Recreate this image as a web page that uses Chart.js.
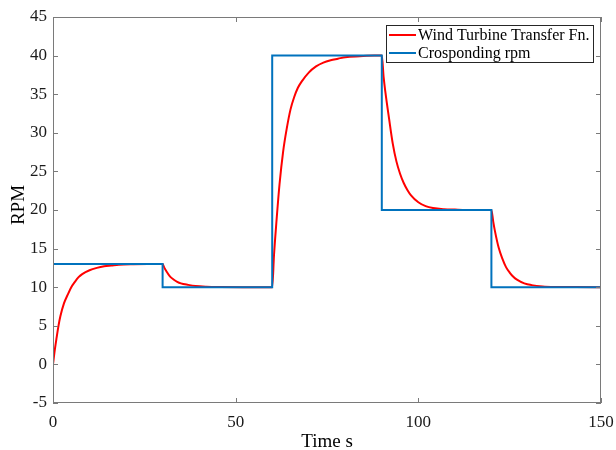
<!DOCTYPE html>
<html>
<head>
<meta charset="utf-8">
<script src="https://cdn.jsdelivr.net/npm/chart.js@4/dist/chart.umd.min.js"></script>
<style>
  html, body { margin: 0; padding: 0; background: #fff; }
  #wrap { width: 616px; height: 450px; }
</style>
</head>
<body>
<div id="wrap"><canvas id="rpmChart" width="616" height="450"></canvas></div>
<script>
// transfer function output
const respTime = [0, 0.5, 1, 1.5, 2, 3, 4, 5, 6, 7, 8, 10, 12, 14, 16, 18, 22, 26, 30,
  30.5, 31, 32, 33, 34, 35, 37, 39, 42, 46, 52, 60,
  60.5, 61, 62, 63, 64, 65, 66, 67, 68, 70, 72, 74, 76, 78, 80, 84, 88, 90,
  90.5, 91, 92, 93, 94, 95, 96, 97, 98, 100, 102, 104, 107, 110, 115, 120,
  120.5, 121, 122, 123, 124, 125, 126, 127, 129, 131, 134, 138, 143, 150];
const respRpm = [0, 1.9, 3.5, 5.0, 6.2, 7.9, 9.0, 10.0, 10.7, 11.3, 11.7, 12.2, 12.5, 12.7, 12.8, 12.9, 12.97, 13, 13,
  12.5, 12.1, 11.4, 11.0, 10.7, 10.5, 10.3, 10.15, 10.06, 10.02, 10, 10,
  14.2, 17.5, 23.3, 27.6, 30.6, 33.0, 34.6, 35.8, 36.6, 37.8, 38.6, 39.1, 39.4, 39.6, 39.8, 39.92, 40, 40,
  37.2, 35.2, 31.8, 28.6, 26.3, 24.7, 23.5, 22.6, 21.9, 21.0, 20.5, 20.25, 20.1, 20.05, 20, 20,
  18.5, 17.2, 15.1, 13.7, 12.6, 11.9, 11.35, 10.97, 10.5, 10.27, 10.1, 10.03, 10.01, 10];

// commanded rpm steps
const stepTime = [0, 30, 30, 60, 60, 90, 90, 120, 120, 150, 150];
const stepRpm = [13, 13, 10, 10, 40, 40, 20, 20, 10, 10, 13];

const seriesNames = ["Wind Turbine Transfer Fn.", "Crosponding rpm"];
const seriesColors = ["#ff0000", "#0072bd"];
const xTicks = [0, 50, 100, 150];
const yTicks = [-5, 0, 5, 10, 15, 20, 25, 30, 35, 40, 45];

const toPoints = (xs, ys) => xs.map((x, i) => ({ x: x, y: ys[i] }));

const serif = "'Liberation Serif', 'Times New Roman', serif";
const textColor = "#1a1a1a";

// MATLAB style box, inward ticks, legend and axis titles
const matlabFrame = {
  id: "matlabFrame",
  afterDatasetsDraw(chart) {
    const { ctx, chartArea: a, scales } = chart;
    const x = scales.x, y = scales.y;
    ctx.save();
    ctx.strokeStyle = "#7a7a7a";
    ctx.lineWidth = 1;
    ctx.strokeRect(a.left + 0.5, a.top + 0.5, a.right - a.left - 1, a.bottom - a.top - 1);
    ctx.beginPath();
    xTicks.forEach(t => {
      const px = Math.round(x.getPixelForValue(t)) + 0.5;
      ctx.moveTo(px, a.bottom); ctx.lineTo(px, a.bottom - 5);
      ctx.moveTo(px, a.top); ctx.lineTo(px, a.top + 5);
    });
    yTicks.forEach(t => {
      const py = Math.round(y.getPixelForValue(t)) + 0.5;
      ctx.moveTo(a.left, py); ctx.lineTo(a.left + 5, py);
      ctx.moveTo(a.right, py); ctx.lineTo(a.right - 5, py);
    });
    ctx.stroke();

    // legend box
    const lx = 386, ly = 25, lw = 207, lh = 37;
    ctx.fillStyle = "#fff";
    ctx.fillRect(lx, ly, lw, lh);
    ctx.strokeStyle = "#262626";
    ctx.strokeRect(lx + 0.5, ly + 0.5, lw, lh);
    ctx.font = "16px " + serif;
    ctx.textBaseline = "middle";
    ctx.textAlign = "left";
    seriesNames.forEach((name, i) => {
      const cy = ly + 10 + i * 18;
      ctx.strokeStyle = seriesColors[i];
      ctx.lineWidth = 2;
      ctx.beginPath();
      ctx.moveTo(lx + 3, cy); ctx.lineTo(lx + 30, cy);
      ctx.stroke();
      ctx.fillStyle = "#000";
      ctx.fillText(name, lx + 32, cy + 1);
    });

    // axis titles
    ctx.fillStyle = "#000";
    ctx.font = "19px " + serif;
    ctx.textAlign = "center";
    ctx.textBaseline = "alphabetic";
    ctx.fillText("Time s", (a.left + a.right) / 2, 447);
    ctx.translate(24, 205);
    ctx.rotate(-Math.PI / 2);
    ctx.fillText("RPM", 0, 0);
    ctx.restore();
  }
};

new Chart(document.getElementById("rpmChart"), {
  type: "line",
  data: {
    datasets: [
      {
        label: seriesNames[0],
        data: toPoints(respTime, respRpm),
        borderColor: seriesColors[0],
        borderWidth: 2,
        pointRadius: 0,
        cubicInterpolationMode: "monotone",
        order: 2
      },
      {
        label: seriesNames[1],
        data: toPoints(stepTime, stepRpm),
        borderColor: seriesColors[1],
        borderWidth: 2,
        pointRadius: 0,
        tension: 0,
        order: 1
      }
    ]
  },
  options: {
    responsive: false,
    animation: false,
    layout: { padding: { left: 0, top: 17, right: 15, bottom: 0 } },
    plugins: {
      legend: { display: false },
      tooltip: { enabled: false }
    },
    scales: {
      x: {
        type: "linear",
        min: 0,
        max: 150,
        grid: { display: false, tickLength: 0 },
        border: { display: false },
        afterFit: s => { s.height = 47; s.paddingLeft = 0; s.paddingRight = 0; },
        afterBuildTicks: s => { s.ticks = xTicks.map(v => ({ value: v })); },
        ticks: { color: textColor, padding: 9, maxRotation: 0, font: { family: serif, size: 17 } }
      },
      y: {
        min: -5,
        max: 45,
        grid: { display: false, tickLength: 0 },
        border: { display: false },
        afterFit: s => { s.width = 53; s.paddingTop = 0; s.paddingBottom = 0; },
        afterBuildTicks: s => { s.ticks = yTicks.map(v => ({ value: v })); },
        ticks: { color: textColor, padding: 6, font: { family: serif, size: 17 } }
      }
    }
  },
  plugins: [matlabFrame]
});
</script>
</body>
</html>
